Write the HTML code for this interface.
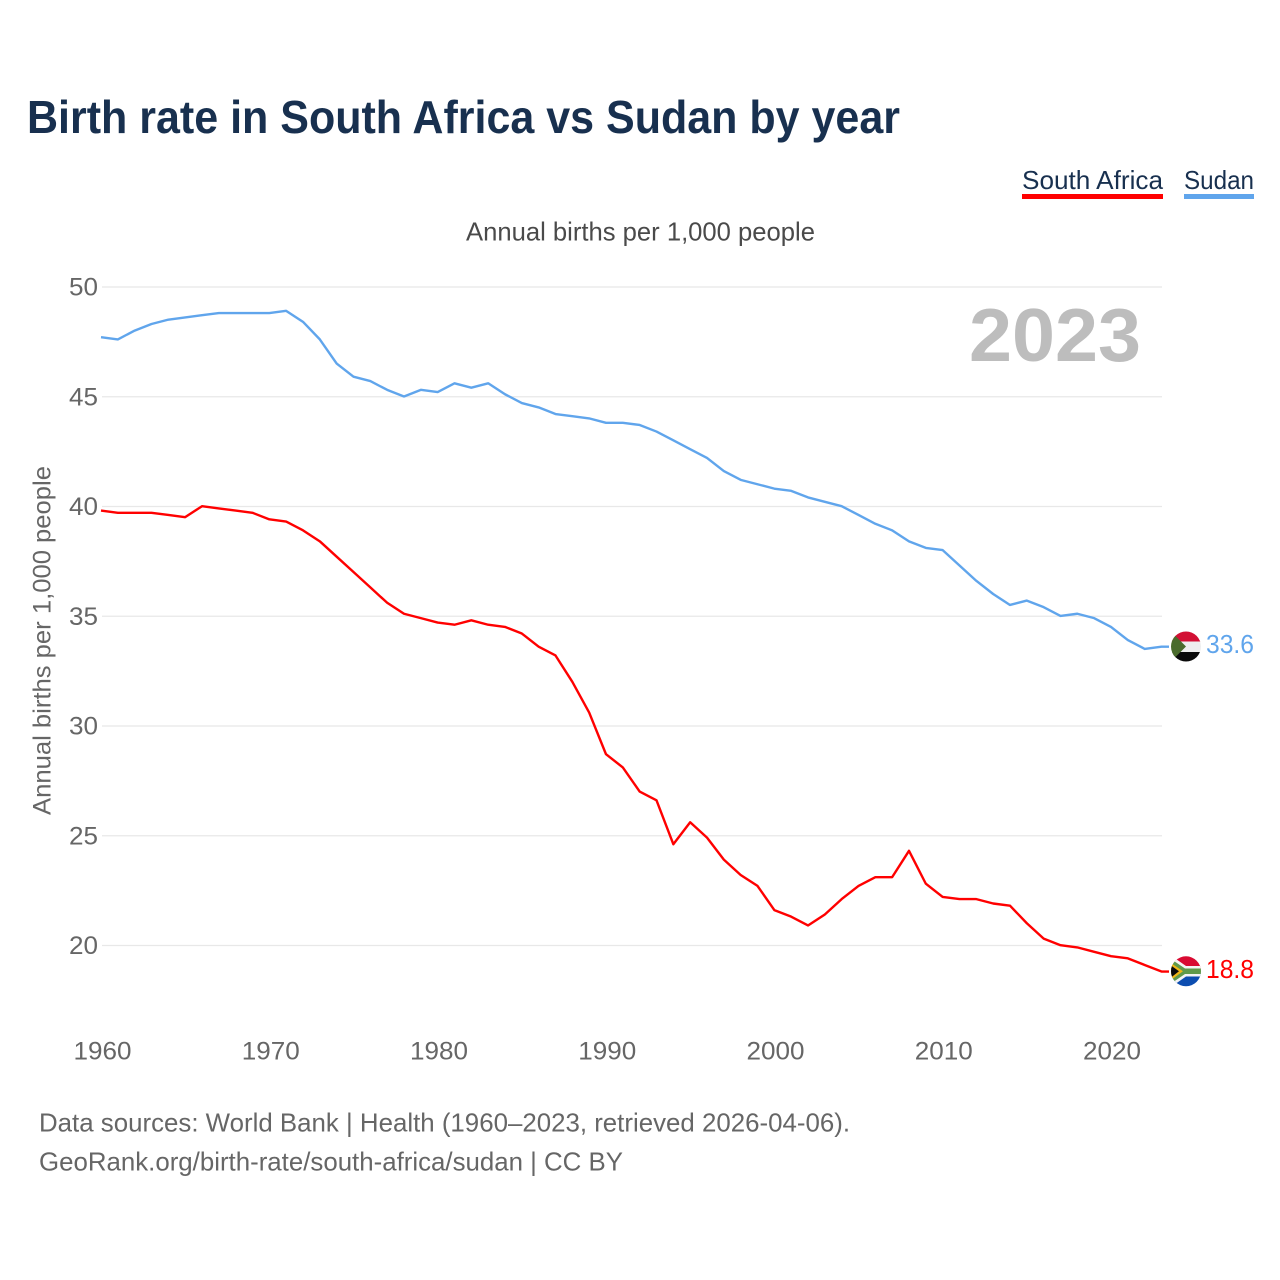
<!DOCTYPE html>
<html lang="en">
<head>
<meta charset="utf-8">
<title>Birth rate in South Africa vs Sudan by year</title>
<style>
html,body{margin:0;padding:0;background:#fff}
svg{display:block}
text{font-family:"Liberation Sans",sans-serif}
</style>
</head>
<body>
<svg id="chart" xmlns="http://www.w3.org/2000/svg" width="1280" height="1280" viewBox="0 0 1280 1280">
  <defs>
    <clipPath id="flag-clip-sd"><circle cx="1186" cy="646.5" r="15"/></clipPath>
    <clipPath id="flag-clip-za"><circle cx="1186" cy="971.3" r="15"/></clipPath>
  </defs>
  <rect width="1280" height="1280" fill="#fff"/>
  <text x="27" y="133" font-size="46" font-weight="700" fill="#18304f" textLength="873" lengthAdjust="spacingAndGlyphs">Birth rate in South Africa vs Sudan by year</text>

  <g>
    <text x="1022" y="189" font-size="26" fill="#18304f" textLength="141" lengthAdjust="spacingAndGlyphs">South Africa</text>
    <rect x="1022" y="194" width="141" height="5" fill="#ff0000"/>
  </g>
  <g>
    <text x="1184" y="189" font-size="26" fill="#18304f" textLength="70" lengthAdjust="spacingAndGlyphs">Sudan</text>
    <rect x="1184" y="194" width="70" height="5" fill="#60a5ec"/>
  </g>

  <text x="466" y="240.5" font-size="26" fill="#4a4a4a" textLength="349" lengthAdjust="spacingAndGlyphs">Annual births per 1,000 people</text>
  <text transform="translate(50.5,815) rotate(-90)" x="0" y="0" font-size="25" fill="#666" textLength="349" lengthAdjust="spacingAndGlyphs">Annual births per 1,000 people</text>

  <g id="grid"></g>
  <g id="x-axis"></g>
  <g id="y-axis"></g>

  <text id="year-label" x="1141" y="361" text-anchor="end" font-size="75" font-weight="700" fill="#bdbdbd" textLength="172" lengthAdjust="spacingAndGlyphs">2023</text>

  <g id="series"></g>

  <g clip-path="url(#flag-clip-sd)">
    <rect x="1171" y="631" width="30" height="11" fill="#d21034"/>
    <rect x="1171" y="641.5" width="30" height="11" fill="#eeeeee"/>
    <rect x="1171" y="652" width="30" height="11" fill="#0a0a0a"/>
    <polygon points="1171,631.5 1186,646.5 1171,661.5" fill="#4a6b2c"/>
  </g>
  <g clip-path="url(#flag-clip-za)">
    <rect x="1171" y="956" width="30" height="15.5" fill="#d90a32"/>
    <rect x="1171" y="971.5" width="30" height="15.5" fill="#0c4db0"/>
    <polygon points="1171,955.5 1186,966 1201,966 1201,976.5 1186,976.5 1171,987" fill="#f4f4f4"/>
    <polygon points="1171,959 1185,968.5 1201,968.5 1201,974 1185,974 1171,983.5" fill="#5f9a4a"/>
    <polygon points="1171,963 1183,971.3 1171,980" fill="#f0b616"/>
    <polygon points="1171,965.5 1179,971.3 1171,977.5" fill="#0a0a0a"/>
  </g>

  <text id="value-sudan" x="1254" y="653" text-anchor="end" font-size="26" fill="#60a5ec" textLength="48" lengthAdjust="spacingAndGlyphs"></text>
  <text id="value-za" x="1254" y="978" text-anchor="end" font-size="26" fill="#ff0000" textLength="48" lengthAdjust="spacingAndGlyphs"></text>

  <text x="39" y="1131.5" font-size="26" fill="#666" textLength="811" lengthAdjust="spacingAndGlyphs">Data sources: World Bank | Health (1960–2023, retrieved 2026-04-06).</text>
  <text x="39" y="1170.5" font-size="26" fill="#666" textLength="584" lengthAdjust="spacingAndGlyphs">GeoRank.org/birth-rate/south-africa/sudan | CC BY</text>
</svg>
<script>
var startYear = 1960;
var xTickYears = [1960, 1970, 1980, 1990, 2000, 2010, 2020];
var yTickValues = [20, 25, 30, 35, 40, 45, 50];
var sudanValues = [47.7,47.6,48.0,48.3,48.5,48.6,48.7,48.8,48.8,48.8,48.8,48.9,48.4,47.6,46.5,45.9,45.7,45.3,45.0,45.3,45.2,45.6,45.4,45.6,45.1,44.7,44.5,44.2,44.1,44.0,43.8,43.8,43.7,43.4,43.0,42.6,42.2,41.6,41.2,41.0,40.8,40.7,40.4,40.2,40.0,39.6,39.2,38.9,38.4,38.1,38.0,37.3,36.6,36.0,35.5,35.7,35.4,35.0,35.1,34.9,34.5,33.9,33.5,33.6];
var southAfricaValues = [39.8,39.7,39.7,39.7,39.6,39.5,40.0,39.9,39.8,39.7,39.4,39.3,38.9,38.4,37.7,37.0,36.3,35.6,35.1,34.9,34.7,34.6,34.8,34.6,34.5,34.2,33.6,33.2,32.0,30.6,28.7,28.1,27.0,26.6,24.6,25.6,24.9,23.9,23.2,22.7,21.6,21.3,20.9,21.4,22.1,22.7,23.1,23.1,24.3,22.8,22.2,22.1,22.1,21.9,21.8,21.0,20.3,20.0,19.9,19.7,19.5,19.4,19.1,18.8];

var NS = 'http://www.w3.org/2000/svg';
function xScale(year) { return 101 + (year - 1960) * (1111 - 101) / 60; }
function labelX(year) { return 102.5 + (year - 1960) * (1112 - 102.5) / 60; }
function yScale(v) { return 286.7 + (50 - v) * (945.2 - 286.7) / 30; }
function make(tag, attrs, text) {
  var el = document.createElementNS(NS, tag);
  for (var k in attrs) el.setAttribute(k, attrs[k]);
  if (text !== undefined) el.textContent = text;
  return el;
}
var gridG = document.getElementById('grid');
var xG = document.getElementById('x-axis');
var yG = document.getElementById('y-axis');
var seriesG = document.getElementById('series');

yTickValues.forEach(function (v) {
  var line = make('line', {x1: 102, x2: 1162, y1: yScale(v) + 0.3, y2: yScale(v) + 0.3, stroke: '#e8e8e8', 'stroke-width': 1.3});
  
  
  gridG.appendChild(line);
  var label = make('text', {x: 98, y: yScale(v) + 9, 'text-anchor': 'end', 'font-size': 25, fill: '#666', textLength: 29, lengthAdjust: 'spacingAndGlyphs'}, String(v));
  
  
  yG.appendChild(label);
});
xTickYears.forEach(function (y) {
  var label = make('text', {x: labelX(y), y: 1059.5, 'text-anchor': 'middle', 'font-size': 25, fill: '#666', textLength: 58, lengthAdjust: 'spacingAndGlyphs'}, String(y));
  
  
  xG.appendChild(label);
});
function linePath(values) {
  var pts = values.map(function (v, i) {
    return xScale(startYear + i).toFixed(2) + ',' + yScale(v).toFixed(2);
  });
  var last = values[values.length - 1];
  pts.push('1169,' + yScale(last).toFixed(2));
  return 'M' + pts.join('L');
}
var sudanLine = make('path', {d: linePath(sudanValues), fill: 'none', stroke: '#60a5ec', 'stroke-width': 2.4, 'stroke-linejoin': 'round'});


seriesG.appendChild(sudanLine);
var zaLine = make('path', {d: linePath(southAfricaValues), fill: 'none', stroke: '#ff0000', 'stroke-width': 2.4, 'stroke-linejoin': 'round'});


seriesG.appendChild(zaLine);
document.getElementById('value-sudan').textContent = sudanValues[sudanValues.length - 1].toFixed(1);
document.getElementById('value-za').textContent = southAfricaValues[southAfricaValues.length - 1].toFixed(1);
</script>
</body>
</html>
